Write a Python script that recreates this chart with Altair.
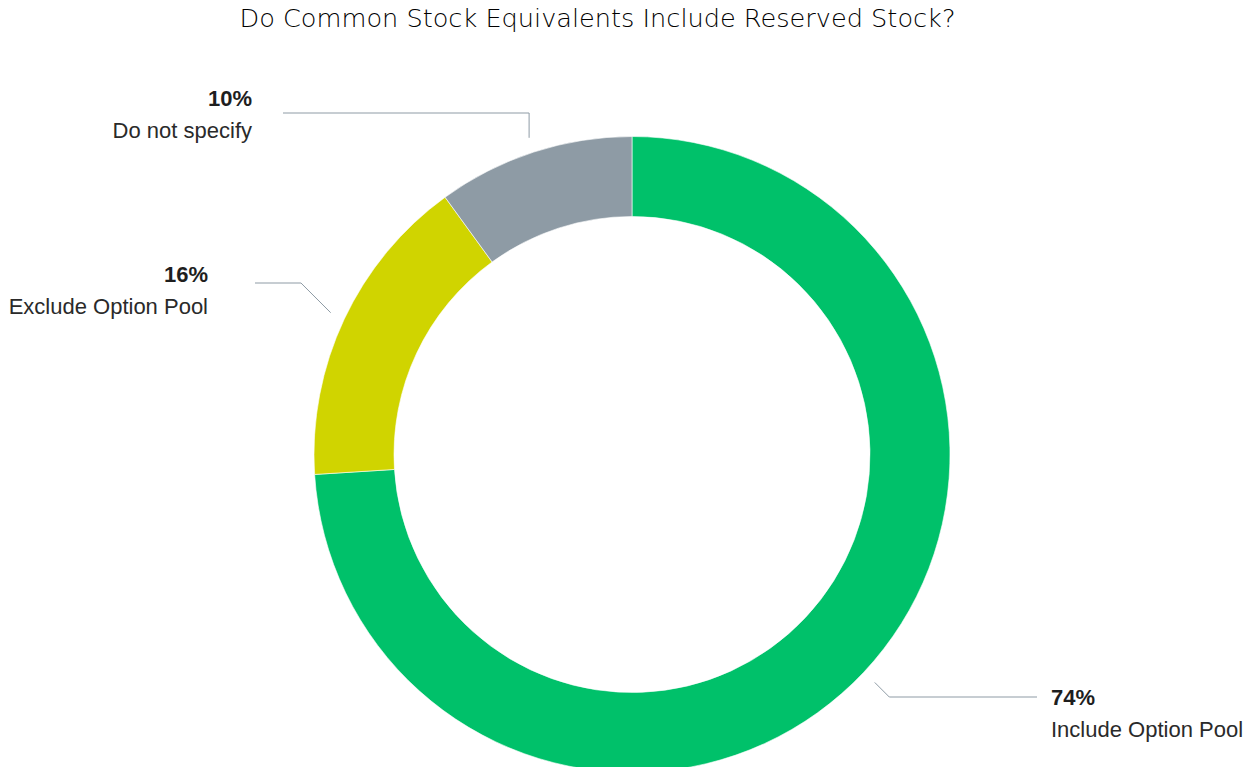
import math
import altair as alt
import pandas as pd

# ---- data ----
categories = ["Include Option Pool", "Exclude Option Pool", "Do not specify"]
shares = [74, 16, 10]
pct_labels = ["74%", "16%", "10%"]
colors = ["#00C16A", "#D0D400", "#8E9BA5"]
title_text = "Do Common Stock Equivalents Include Reserved Stock?"

# ---- layout (pixels, relative to donut centre, y up) ----
W, PAD_TOP = 1237, 40
H = 759 - PAD_TOP
CX, CY = 624, 406.5          # donut centre inside the plot area
R_OUT, R_IN = 318, 238
label_line_y = [-242.5, 171.5, 341.5]
label_line_end_x = [405, -377, -349]
label_text_x = [419, -424, -380]
label_dy = [8, -1, -7]       # pct baseline below connector line
name_gap = [32, 32, 32]      # name baseline below pct baseline
connector_slant = [1, 1, 0]
R_START = 333
LABEL_FONT = "Liberation Sans"
TITLE_FONT = "DejaVu Sans"

xs = alt.Scale(domain=[-CX, W - CX], nice=False, zero=False)
ys = alt.Scale(domain=[-(H - CY), CY], nice=False, zero=False)

arc_df = pd.DataFrame({"category": categories, "share": shares,
                       "order": list(range(len(categories)))})

total = sum(shares)
line_rows, text_rows = [], []
cum = 0
for i, (cat, v) in enumerate(zip(categories, shares)):
    mid = 2 * math.pi * (cum + v / 2) / total
    cum += v
    sx, sy = R_START * math.sin(mid), R_START * math.cos(mid)
    side = 1 if math.sin(mid) > 0 else -1
    ly = label_line_y[i]
    ex = sx + side * abs(ly - sy) * connector_slant[i]
    for k, (px, py) in enumerate([(sx, sy), (ex, ly), (label_line_end_x[i], ly)]):
        line_rows.append({"category": cat, "pt": k, "x": px, "y": py})
    py = ly - label_dy[i]
    text_rows.append({"category": cat, "pct": pct_labels[i], "side": side,
                      "x": label_text_x[i], "y_pct": py, "y_name": py - name_gap[i]})

line_df = pd.DataFrame(line_rows)
text_df = pd.DataFrame(text_rows)

arc = alt.Chart(arc_df).mark_arc(radius=R_OUT, radius2=R_IN, stroke="white",
                                 strokeWidth=0.6).encode(
    theta=alt.Theta("share:Q", stack=True),
    color=alt.Color("category:N", scale=alt.Scale(domain=categories, range=colors),
                    legend=None),
    order=alt.Order("order:Q"),
    x=alt.value(CX), y=alt.value(CY),
)

lines = alt.Chart(line_df).mark_line(color="#8E9BA5", strokeWidth=1).encode(
    x=alt.X("x:Q", scale=xs, axis=None),
    y=alt.Y("y:Q", scale=ys, axis=None),
    detail="category:N",
    order="pt:Q",
)

def text_layers(side, align):
    base = alt.Chart(text_df).transform_filter(alt.datum.side == side)
    pct = base.mark_text(align=align, baseline="alphabetic", font=LABEL_FONT,
                         fontSize=22, fontWeight="bold", color="#1e1e1e").encode(
        x=alt.X("x:Q", scale=xs, axis=None),
        y=alt.Y("y_pct:Q", scale=ys, axis=None),
        text="pct:N")
    name = base.mark_text(align=align, baseline="alphabetic", font=LABEL_FONT,
                          fontSize=22, color="#2a2a2a").encode(
        x=alt.X("x:Q", scale=xs, axis=None),
        y=alt.Y("y_name:Q", scale=ys, axis=None),
        text="category:N")
    return [pct, name]

chart = alt.layer(arc, lines, *text_layers(1, "left"), *text_layers(-1, "right")).properties(
    width=W, height=H,
    title=alt.TitleParams(title_text, font=TITLE_FONT, fontSize=25.6, fontWeight=300,
                          color="#000000", anchor="middle", dx=-29, offset=15),
    autosize=alt.AutoSizeParams(type="none"),
    padding={"left": 0, "top": PAD_TOP, "right": 0, "bottom": 0},
).configure_view(stroke=None)

chart.save("out.html", embed_options={"renderer": "svg", "actions": False})
